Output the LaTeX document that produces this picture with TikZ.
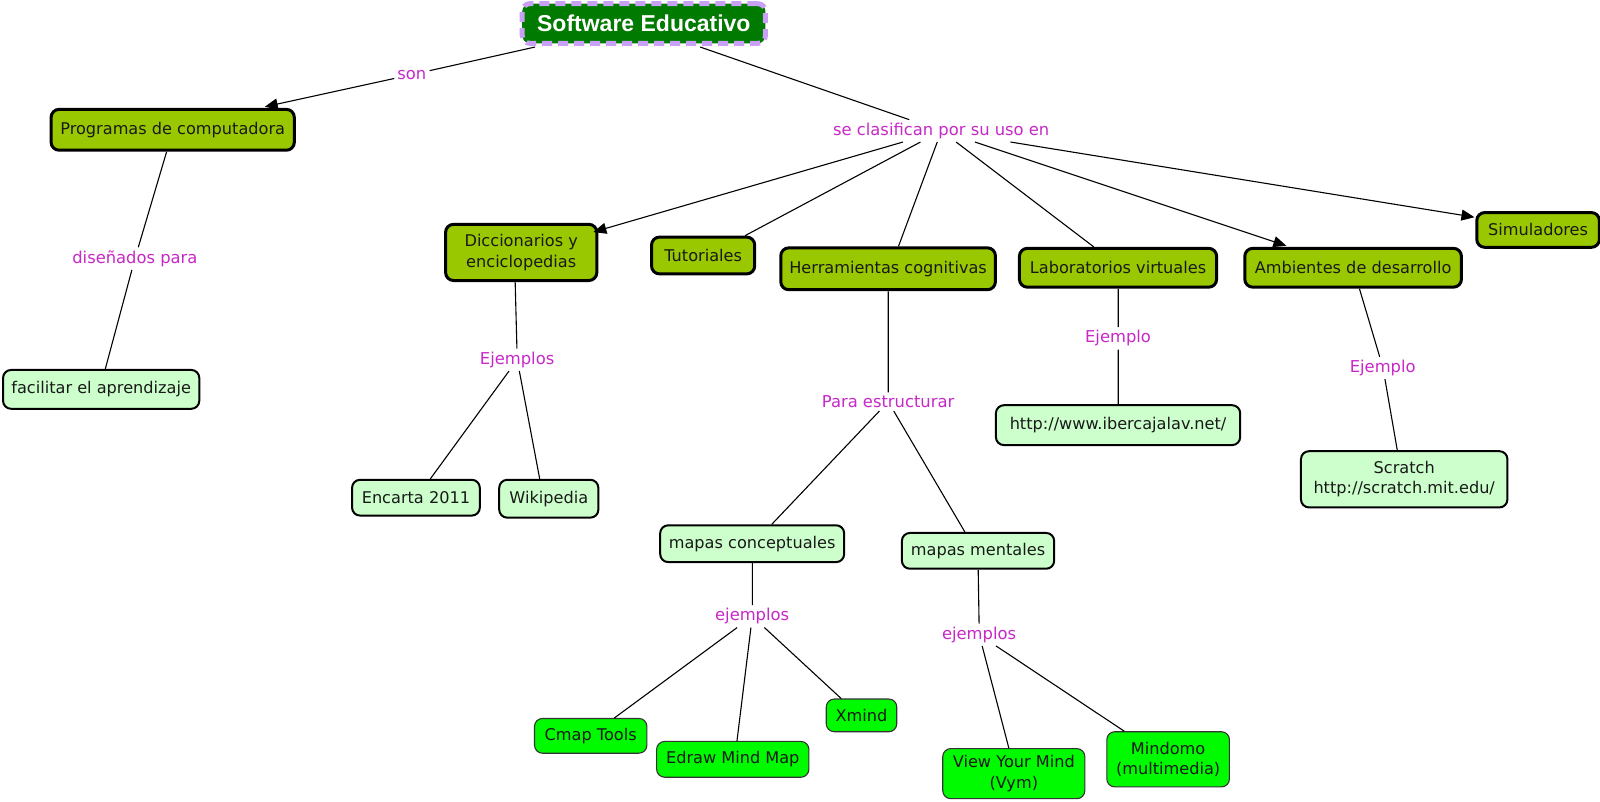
\documentclass[tikz,border=0pt]{standalone}
\usepackage{fontspec}
\setmainfont{DejaVu Sans}
\newfontfamily\titlefont{Liberation Sans}
\usetikzlibrary{arrows.meta,calc}
\definecolor{lvone}{RGB}{153,200,0}
\definecolor{lightg}{RGB}{204,255,204}
\definecolor{brightg}{RGB}{0,250,0}
\definecolor{dkgreen}{RGB}{0,122,0}
\definecolor{lavender}{RGB}{200,160,245}
\definecolor{linkc}{RGB}{200,40,200}
\tikzset{
  base/.style={rounded corners=8pt, align=center, inner sep=0pt, font=\fontsize{15.8}{20}\selectfont, text=black!90},
  lvl/.style={base, fill=lvone, draw=black, line width=3pt},
  leaf/.style={base, fill=lightg, draw=black, line width=2pt},
  tool/.style={base, fill=brightg, draw=black!80, line width=1.1pt},
  link/.style={font=\fontsize{16}{19}\selectfont, text=linkc, inner sep=3pt},
  con/.style={line width=1.1pt, black},
  arr/.style={con, -{Triangle[length=13pt,width=11pt]}},
  sz/.style 2 args={minimum width=#1pt, minimum height=#2pt}
}
\begin{document}
\begin{tikzpicture}[x=1pt,y=-1pt,scale=1.022,every node/.append style={transform shape}]
\useasboundingbox (0,0) rectangle (1565.6,783.8);
\fill[white] (0,0) rectangle (1565.6,783.8);
% title
\node[base, sz={238}{39}, fill=dkgreen, draw=lavender, line width=5pt, dash pattern=on 10pt off 6pt, text=white, font=\titlefont\bfseries\fontsize{22.5}{26}\selectfont] (title) at (630,23) {Software Educativo};
% level 1
\node[lvl, sz={238}{40}] (prog) at (169,127) {Programas de computadora};
\node[lvl, sz={148}{55}] (dic) at (510,247) {Diccionarios y\\enciclopedias};
\node[lvl, sz={101}{36}] (tut) at (688,250) {Tutoriales};
\node[lvl, sz={210}{41}] (herr) at (869,263) {Herramientas cognitivas};
\node[lvl, sz={193}{38}] (lab) at (1094,262) {Laboratorios virtuales};
\node[lvl, sz={212}{38}] (amb) at (1324,262) {Ambientes de desarrollo};
\node[lvl, sz={120}{34}] (sim) at (1505,225) {Simuladores};
% leaves
\node[leaf, sz={192}{38}] (fac) at (99,381) {facilitar el aprendizaje};
\node[leaf, sz={125}{35}] (enc) at (407,487) {Encarta 2011};
\node[leaf, sz={97}{37}] (wiki) at (537,488) {Wikipedia};
\node[leaf, sz={239}{39}] (iber) at (1094,416) {http://www.ibercajalav.net/};
\node[leaf, sz={202}{55}] (scr) at (1374,469) {Scratch\\http://scratch.mit.edu/};
\node[leaf, sz={180}{36}] (mconc) at (736,532) {mapas conceptuales};
\node[leaf, sz={149}{35}] (mment) at (957,539) {mapas mentales};
% tools
\node[tool, sz={110}{34}] (cmap) at (578,720) {Cmap Tools};
\node[tool, sz={149}{35}] (edraw) at (717,743) {Edraw Mind Map};
\node[tool, sz={69}{32}] (xmind) at (843,700) {Xmind};
\node[tool, sz={139}{49}] (vym) at (992,757) {View Your Mind\\(Vym)};
\node[tool, sz={120}{54}] (mind) at (1143,743) {Mindomo\\(multimedia)};
% linking phrases
\node[link] (son) at (403,73) {son};
\node[link] (clas) at (921,128) {se clasifican por su uso en};
\node[link] (dis) at (132,253) {diseñados para};
\node[link] (ejs) at (506,352) {Ejemplos};
\node[link] (para) at (869,393) {Para estructurar};
\node[link] (ej1) at (1094,331) {Ejemplo};
\node[link] (ej2) at (1353,360) {Ejemplo};
\node[link] (ejc) at (736,603) {ejemplos};
\node[link] (ejm) at (958,621) {ejemplos};
% connectors
\draw[con] ($(title.south west)+(15,1)$) -- (son);
\draw[arr] (son) -- ($(prog.north)+(90,-1)$);
\draw[con] ($(title.south)+(55,1)$) -- (clas);
\draw[arr] (clas) -- ($(dic.north east)+(-5,9)$);
\draw[con] (clas) -- ($(tut.north east)+(-11,0)$);
\draw[con] (clas) -- ($(herr.north)+(10,0)$);
\draw[con] (clas) -- ($(lab.north)+(-24,0)$);
\draw[arr] (clas) -- ($(amb.north west)+(42,-1)$);
\draw[arr] (clas) -- ($(sim.north west)+(-1,6)$);
\draw[con] ($(prog.south)+(-6,0)$) -- (dis);
\draw[con] (dis) -- ($(fac.north)+(4,0)$);
\draw[con] ($(dic.south)+(-6,0)$) -- (ejs);
\draw[con] (ejs) -- ($(enc.north)+(14,0)$);
\draw[con] (ejs) -- ($(wiki.north)+(-9,0)$);
\draw[con] (herr.south) -- (para);
\draw[con] (para) -- ($(mconc.north)+(19,0)$);
\draw[con] (para) -- ($(mment.north)+(-13,0)$);
\draw[con] (lab.south) -- (ej1);
\draw[con] (ej1) -- (iber.north);
\draw[con] ($(amb.south)+(6,0)$) -- (ej2);
\draw[con] (ej2) -- ($(scr.north)+(-7,0)$);
\draw[con] (mconc.south) -- (ejc);
\draw[con] (ejc) -- ($(cmap.north)+(23,0)$);
\draw[con] (ejc) -- ($(edraw.north)+(4,0)$);
\draw[con] (ejc) -- ($(xmind.north)+(-20,0)$);
\draw[con] (mment.south) -- (ejm);
\draw[con] (ejm) -- ($(vym.north)+(-5,0)$);
\draw[con] (ejm) -- ($(mind.north)+(-43,0)$);
\end{tikzpicture}
\end{document}
